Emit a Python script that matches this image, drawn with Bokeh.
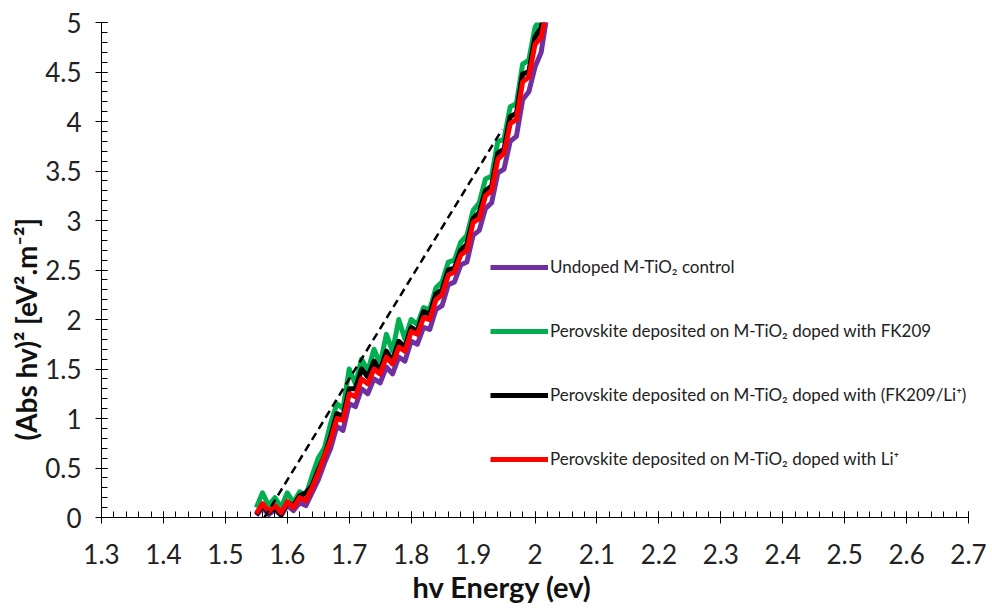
from bokeh.plotting import figure
from bokeh.models import FixedTicker, CustomJSTickFormatter, Legend, LegendItem, Title
from bokeh.embed import file_html
from bokeh.resources import INLINE

energy = [1.55, 1.56, 1.57, 1.58, 1.59, 1.60, 1.61, 1.62, 1.63, 1.64,
          1.65, 1.66, 1.67, 1.68, 1.69, 1.70, 1.71, 1.72, 1.73, 1.74,
          1.75, 1.76, 1.77, 1.78, 1.79, 1.80, 1.81, 1.82, 1.83, 1.84,
          1.85, 1.86, 1.87, 1.88, 1.89, 1.90, 1.91, 1.92, 1.93, 1.94,
          1.95, 1.96, 1.97, 1.98, 1.99, 2.00, 2.01, 2.02]

undoped = [0.02, 0.10, 0.03, 0.08, 0.02, 0.12, 0.07, 0.15, 0.12, 0.25,
           0.38, 0.55, 0.70, 0.92, 0.88, 1.15, 1.12, 1.30, 1.25, 1.40,
           1.36, 1.52, 1.45, 1.62, 1.58, 1.78, 1.75, 1.92, 1.90, 2.10,
           2.14, 2.35, 2.38, 2.55, 2.58, 2.85, 2.90, 3.12, 3.18, 3.48,
           3.52, 3.80, 3.85, 4.22, 4.30, 4.55, 4.70, 5.10]

fk209 = [0.10, 0.25, 0.12, 0.20, 0.10, 0.25, 0.15, 0.26, 0.22, 0.42,
         0.60, 0.70, 0.95, 1.15, 1.10, 1.50, 1.35, 1.60, 1.48, 1.70,
         1.55, 1.85, 1.68, 2.00, 1.80, 2.00, 1.95, 2.12, 2.10, 2.32,
         2.38, 2.58, 2.60, 2.78, 2.85, 3.10, 3.18, 3.42, 3.45, 3.80,
         3.82, 4.15, 4.18, 4.58, 4.62, 4.95, 5.05, 5.30]

fk209_li = [0.03, 0.12, 0.05, 0.10, 0.03, 0.15, 0.12, 0.22, 0.25, 0.32,
            0.48, 0.62, 0.82, 1.05, 1.02, 1.30, 1.30, 1.50, 1.42, 1.58,
            1.48, 1.68, 1.58, 1.78, 1.72, 1.92, 1.88, 2.08, 2.05, 2.26,
            2.30, 2.50, 2.52, 2.70, 2.76, 3.02, 3.08, 3.30, 3.35, 3.68,
            3.72, 4.05, 4.08, 4.48, 4.50, 4.85, 4.95, 5.20]

li = [0.04, 0.14, 0.06, 0.12, 0.05, 0.16, 0.10, 0.20, 0.17, 0.30,
      0.45, 0.62, 0.78, 1.00, 0.98, 1.25, 1.22, 1.40, 1.35, 1.50,
      1.45, 1.62, 1.55, 1.72, 1.68, 1.88, 1.85, 2.02, 2.00, 2.20,
      2.25, 2.45, 2.48, 2.65, 2.70, 2.98, 3.02, 3.25, 3.30, 3.62,
      3.68, 3.98, 4.02, 4.40, 4.45, 4.78, 4.85, 5.15]

fit_x = [1.563, 1.947]
fit_y = [0.0, 3.92]

labels = ["Undoped M-TiO\u2082 control",
          "Perovskite deposited on M-TiO\u2082 doped with FK209",
          "Perovskite deposited on M-TiO\u2082 doped with (FK209/Li\u207a)",
          "Perovskite deposited on M-TiO\u2082 doped with Li\u207a"]
colors = ["#7030A0", "#00B050", "#000000", "#FF0000"]

x_ticks = [1.3, 1.4, 1.5, 1.6, 1.7, 1.8, 1.9, 2.0, 2.1, 2.2, 2.3, 2.4, 2.5, 2.6, 2.7]
y_ticks = [0, 0.5, 1, 1.5, 2, 2.5, 3, 3.5, 4, 4.5, 5]
x_title = "hv Energy (ev)"
y_title = "(Abs hv)\u00b2 [eV\u00b2.m\u207b\u00b2]"

p = figure(width=992, height=610, output_backend="svg", toolbar_location=None,
           x_range=(1.3, 2.7), y_range=(0, 5),
           min_border_left=101, min_border_right=24, min_border_top=22, min_border_bottom=93)
p.outline_line_color = None
p.xgrid.visible = False
p.ygrid.visible = False

series = [undoped, fk209, fk209_li, li]
renderers = []
for ys, c in zip(series, colors):
    r = p.line(energy, ys, line_color=c, line_width=5, line_join="round")
    renderers.append(r)

p.line(fit_x, fit_y, line_color="black", line_width=2.5, line_dash="8 5")

fmt = CustomJSTickFormatter(code="return tick.toFixed(1).replace(/\\.0$/, '');")

x_minor = [round(1.3 + 0.02 * i, 2) for i in range(71)]
y_minor = [round(0.1 * i, 1) for i in range(51)]
p.xaxis.ticker = FixedTicker(ticks=x_ticks, minor_ticks=x_minor)
p.yaxis.ticker = FixedTicker(ticks=y_ticks, minor_ticks=y_minor)
for ax in (p.xaxis[0], p.yaxis[0]):
    ax.formatter = fmt
    ax.axis_line_color = "black"
    ax.axis_line_width = 1
    ax.major_tick_line_color = "black"
    ax.minor_tick_line_color = "black"
    ax.major_tick_in = 6
    ax.major_tick_out = 6
    ax.minor_tick_in = 6
    ax.minor_tick_out = 0
    ax.major_label_text_font = "Lato"
    ax.major_label_text_font_size = "26px"
    ax.major_label_text_color = "#222222"

p.xaxis.major_label_standoff = 20
p.yaxis.major_label_standoff = 14

# axis titles, offset from centre as in the original
p.add_layout(Title(text=x_title, align="left", offset=311, standoff=0,
                   text_font="Lato", text_font_style="bold", text_font_size="29px",
                   text_color="#111111"), "below")
p.add_layout(Title(text=y_title, align="left", offset=77, standoff=0,
                   text_font="Lato", text_font_style="bold", text_font_size="28px",
                   text_color="#111111"), "left")

legend = Legend(items=[LegendItem(label=l, renderers=[r]) for l, r in zip(labels, renderers)],
                location=(389, 48), orientation="vertical",
                glyph_width=58, glyph_height=20, label_height=20, spacing=43,
                label_text_font="Lato", label_text_font_size="17px",
                label_text_color="#222222", label_standoff=2,
                padding=0, margin=0, border_line_color=None,
                background_fill_alpha=0)
p.add_layout(legend, "center")

open("out.html", "w").write(file_html(p, INLINE))
